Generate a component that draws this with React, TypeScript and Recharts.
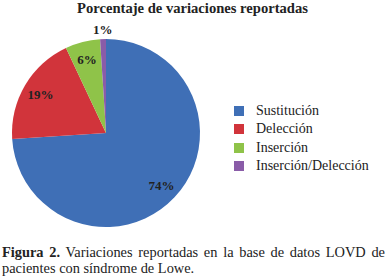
import React from 'react'
import { PieChart, Pie, Cell } from 'recharts'

// Datos del gráfico (porcentajes)
const CATEGORIES = ['Sustitución', 'Delección', 'Inserción', 'Inserción/Delección']
const VALUES = [74, 19, 6, 1]
const COLORS = ['#3f6fb6', '#d1343b', '#8fc349', '#8a5ca8']

const TITLE = 'Porcentaje de variaciones reportadas'
const CAPTION_BOLD = 'Figura 2.'
const CAPTION_TEXT = ' Variaciones reportadas en la base de datos LOVD de pacientes con síndrome de Lowe.'

const SERIF = "'Times New Roman', 'Liberation Serif', 'DejaVu Serif', serif"
const RADIAN = Math.PI / 180

const data = CATEGORIES.map((name, i) => ({ name, value: VALUES[i] }))

const renderLabel = (props: any) => {
  const { cx, cy, midAngle, outerRadius, value } = props
  // small slices get their label outside the pie
  const r = value < 2 ? outerRadius + 10 : outerRadius * 0.81
  const x = cx + r * Math.cos(-midAngle * RADIAN)
  const y = cy + r * Math.sin(-midAngle * RADIAN)
  return (
    <text
      x={x}
      y={y}
      textAnchor="middle"
      dominantBaseline="central"
      style={{ fontFamily: SERIF, fontWeight: 'bold', fontSize: 13 }}
      fill="#222"
    >
      {`${value}%`}
    </text>
  )
}

// legend drawn from the category arrays so the order stays as in the reference
const LegendBox = () => (
  <div
    style={{
      position: 'absolute',
      left: 234,
      top: 102,
      fontFamily: SERIF,
      fontSize: 14,
      color: '#222',
    }}
  >
    {CATEGORIES.map((name, i) => (
      <div key={name} style={{ display: 'flex', alignItems: 'center', height: 18.3 }}>
        <div style={{ width: 10, height: 10, background: COLORS[i], marginRight: 12 }} />
        <span>{name}</span>
      </div>
    ))}
  </div>
)

export default function App() {
  return (
    <div
      style={{
        position: 'absolute',
        left: 0,
        top: 0,
        width: 387,
        height: 278,
        background: '#fff',
        overflow: 'hidden',
      }}
    >
      <div
        style={{
          position: 'absolute',
          top: 0,
          left: 0,
          width: 385,
          textAlign: 'center',
          fontFamily: SERIF,
          fontWeight: 'bold',
          fontSize: 14.6,
          color: '#222',
        }}
      >
        {TITLE}
      </div>
      <PieChart
        width={387}
        height={236}
        margin={{ top: 0, right: 0, bottom: 0, left: 0 }}
        style={{ position: 'absolute', left: 0, top: 0 }}
      >
        <Pie
          data={data}
          dataKey="value"
          nameKey="name"
          cx={106}
          cy={133}
          outerRadius={94}
          startAngle={90}
          endAngle={-270}
          stroke="none"
          label={renderLabel}
          labelLine={false}
          isAnimationActive={false}
        >
          {data.map((d, i) => (
            <Cell key={d.name} fill={COLORS[i]} />
          ))}
        </Pie>
      </PieChart>
      <LegendBox />
      <div
        style={{
          position: 'absolute',
          top: 244,
          left: 2,
          width: 383,
          fontFamily: SERIF,
          fontSize: 14.4,
          lineHeight: '16px',
          textAlign: 'justify',
          color: '#222',
        }}
      >
        <b>{CAPTION_BOLD}</b>
        {CAPTION_TEXT}
      </div>
    </div>
  )
}
